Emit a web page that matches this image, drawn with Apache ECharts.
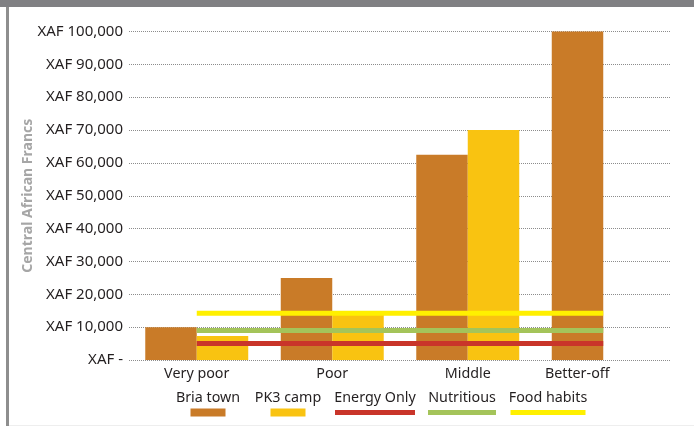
<!DOCTYPE html>
<html>
<head>
<meta charset="utf-8">
<script src="https://cdn.jsdelivr.net/npm/echarts@6/dist/echarts.min.js"></script>
<style>
  html, body { margin: 0; padding: 0; background: #fff; }
  #chart { width: 694px; height: 426px; }
</style>
</head>
<body>
<div id="chart"></div>
<script>
// categories and values
const groups = ['Very poor', 'Poor', 'Middle', 'Better-off'];
const briaTown = [10000, 25000, 62500, 100000];
const pk3Camp = [7300, 14000, 70000, null];
const energyOnly = [5000, 5000, 5000, 5000];
const nutritious = [9000, 9000, 9000, 9000];
const foodHabits = [14200, 14200, 14200, 14200];

const names = ['Bria town', 'PK3 camp', 'Energy Only', 'Nutritious', 'Food habits'];
const colors = ['#C97B28', '#F9C311', '#C9352A', '#A4C45A', '#FFF000'];

const font = 'Noto Sans';

let chart = echarts.init(document.getElementById('chart'));

// hand-made legend: name on top, swatch under it
const legendX = [208, 288, 375, 462, 548];
const swatchW = [35, 35, 80, 68, 75];
let legendItems = [];
names.forEach((n, i) => {
  legendItems.push({
    type: 'text',
    x: legendX[i], y: 398,
    style: {
      text: n, fill: '#231f20', font: '14.3px ' + font,
      align: 'center', verticalAlign: 'middle'
    }
  });
  let isBar = i < 2;
  let h = isBar ? 8 : 5;
  legendItems.push({
    type: 'rect',
    shape: { x: legendX[i] - swatchW[i] / 2, y: 412.5 - h / 2, width: swatchW[i], height: h },
    style: { fill: colors[i] }
  });
});

function lineSeries(name, data, color) {
  return {
    name: name,
    type: 'line',
    data: data,
    symbol: 'none',
    lineStyle: { width: 5, color: color, cap: 'butt' },
    itemStyle: { color: color },
    z: 5,
    silent: true
  };
}

let option = {
  animation: false,
  textStyle: { fontFamily: font },
  graphic: [
    { type: 'rect', shape: { x: 0, y: 0, width: 694, height: 7 }, style: { fill: '#808083' } },
    { type: 'rect', shape: { x: 6, y: 7, width: 3, height: 419 }, style: { fill: '#8e8e8e' } },
    { type: 'rect', shape: { x: 9, y: 425, width: 685, height: 1 }, style: { fill: '#eeeeee' } }
  ].concat(legendItems),
  grid: { left: 129, right: 23, top: 31.5, bottom: 66 },
  xAxis: {
    type: 'category',
    data: groups,
    axisLine: { show: false },
    axisTick: { show: false },
    axisLabel: {
      color: '#231f20',
      fontSize: 14.3,
      margin: 7,
      formatter: function (v) {
        return v === 'Better-off' ? '{s|' + v + '}' : v;
      },
      rich: { s: { fontSize: 14.3, color: '#231f20', padding: [0, 52, 0, 0] } }
    }
  },
  yAxis: {
    type: 'value',
    min: 0,
    max: 100000,
    interval: 10000,
    name: 'Central African Francs',
    nameLocation: 'middle',
    nameGap: 94,
    nameMoveOverlap: false,
    nameRotate: 90,
    nameTextStyle: { color: '#a6a6a6', fontWeight: 'bold', fontSize: 14 },
    axisLine: { show: false },
    axisTick: { show: false },
    axisLabel: {
      color: '#231f20',
      fontSize: 15,
      margin: 6,
      formatter: function (v) {
        return v === 0 ? 'XAF -' : 'XAF ' + v.toLocaleString('en-US');
      }
    },
    splitLine: { lineStyle: { color: '#8c8c8c', type: [1, 1], width: 1 } }
  },
  series: [
    {
      name: names[0], type: 'bar', data: briaTown,
      itemStyle: { color: colors[0] },
      barGap: 0, barCategoryGap: '24%'
    },
    {
      name: names[1], type: 'bar', data: pk3Camp,
      itemStyle: { color: colors[1] },
      barGap: 0, barCategoryGap: '24%'
    },
    lineSeries(names[2], energyOnly, colors[2]),
    lineSeries(names[3], nutritious, colors[3]),
    lineSeries(names[4], foodHabits, colors[4])
  ]
};
chart.setOption(option);
</script>
</body>
</html>
